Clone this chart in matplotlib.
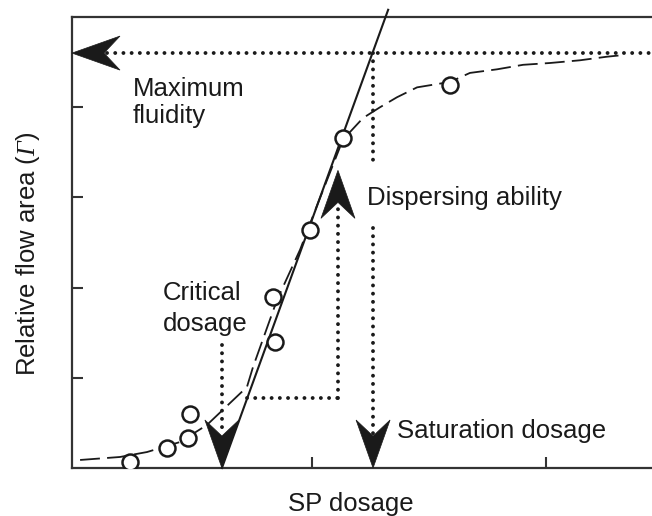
import matplotlib
matplotlib.use("Agg")
import matplotlib.pyplot as plt
from matplotlib.patches import Polygon
from matplotlib.transforms import IdentityTransform

plt.rcParams['font.family'] = ['Liberation Sans', 'DejaVu Sans']
# The only math in the figure is the italic Gamma of the y label
plt.rcParams['mathtext.fontset'] = 'custom'
plt.rcParams['mathtext.rm'] = 'Liberation Serif:italic'
plt.rcParams['mathtext.it'] = 'Liberation Serif:italic'

# Measured relative flow area vs. superplasticizer dosage
dose = [0.222, 0.380, 0.470, 0.479, 0.842, 0.833, 0.991, 1.132, 1.590]
flow = [0.067, 0.222, 0.333, 0.599, 1.397, 1.896, 2.639, 3.659, 4.246]

# Smoothed trend through the measurements
trend_dose = [0.009, 0.179, 0.295, 0.436, 0.551, 0.650, 0.722, 0.748, 0.850,
              0.949, 1.026, 1.132, 1.218, 1.291, 1.363, 1.449, 1.590, 1.675,
              1.791, 1.902, 2.017, 2.145, 2.261, 2.338]
trend_flow = [0.089, 0.122, 0.177, 0.288, 0.477, 0.721, 0.898, 1.120, 1.860,
              2.420, 2.940, 3.640, 3.880, 4.000, 4.110, 4.220, 4.280, 4.380,
              4.420, 4.470, 4.490, 4.520, 4.560, 4.580]

# Characteristic values
critical_dosage = 0.615
saturation_dosage = 1.261
max_fluidity = 4.60
linear_slope = 7.15
linear_top = 5.08
dispersing_dose = 1.111
dispersing_base = 0.776
dispersing_tip = 3.30
text_gap = (2.66, 3.36)

x_ticks = [1, 2]
y_ticks = [1, 2, 3, 4]

W, H = 652, 516
fig = plt.figure(figsize=(W / 100, H / 100), dpi=100)
ax = fig.add_axes([72 / W, 48 / H, 580 / W, 451 / H])
ax.set_xlim(-0.0256, 2.453)
ax.set_ylim(0, 5.0)

ink = '#1a1a1a'
for side in ['left', 'bottom', 'top']:
    ax.spines[side].set_linewidth(1.6)
    ax.spines[side].set_color('#333333')
ax.spines['right'].set_visible(False)
ax.set_xticks(x_ticks)
ax.set_yticks(y_ticks)
ax.tick_params(direction='in', length=8, width=1.5, color='#333333',
               labelbottom=False, labelleft=False)

dot_style = dict(color=ink, lw=2.8, linestyle=(0, (0.01, 2.1)),
                 dash_capstyle='round', zorder=2)

# Linear region of the flow curve
x_end = critical_dosage + linear_top / linear_slope
ax.plot([critical_dosage, x_end], [0, linear_top], color=ink, lw=1.5,
        clip_on=False, zorder=3)

# Trend curve and measurements
ax.plot(trend_dose, trend_flow, color=ink, lw=1.3, linestyle=(0, (11, 4)), zorder=3)
ax.plot(dose, flow, 'o', mfc='white', mec=ink, ms=11.5, mew=1.8, zorder=4)


def arrowhead(x, y, direction, length=48, half_width=17, notch=32):
    """Filled stealth arrowhead with its tip at data point (x, y)."""
    tx, ty = ax.transData.transform((x, y))
    dx, dy = {'left': (-1, 0), 'down': (0, -1), 'up': (0, 1)}[direction]
    px, py = -dy, dx
    pts = [(tx, ty),
           (tx - dx * length + px * half_width, ty - dy * length + py * half_width),
           (tx - dx * notch, ty - dy * notch),
           (tx - dx * length - px * half_width, ty - dy * length - py * half_width)]
    ax.add_patch(Polygon(pts, closed=True, transform=IdentityTransform(),
                         facecolor=ink, edgecolor=ink, lw=0.5, clip_on=False,
                         zorder=5))


def data_offset_y(px):
    return px / ax.bbox.height * (ax.get_ylim()[1] - ax.get_ylim()[0])


def data_offset_x(px):
    return px / ax.bbox.width * (ax.get_xlim()[1] - ax.get_xlim()[0])


# Maximum fluidity
x_left = ax.get_xlim()[0]
ax.plot([x_left + data_offset_x(35), ax.get_xlim()[1]], [max_fluidity] * 2,
        clip_on=False, **dot_style)
arrowhead(x_left, max_fluidity, 'left')

# Saturation dosage
ax.plot([saturation_dosage] * 2, [max_fluidity, text_gap[1]], **dot_style)
ax.plot([saturation_dosage] * 2, [text_gap[0], data_offset_y(34)], **dot_style)
arrowhead(saturation_dosage, 0, 'down')

# Critical dosage
ax.plot([critical_dosage] * 2, [1.36, data_offset_y(34)], **dot_style)
arrowhead(critical_dosage, 0, 'down')

# Dispersing ability
x_start = critical_dosage + dispersing_base / linear_slope
ax.plot([x_start, dispersing_dose], [dispersing_base] * 2, **dot_style)
ax.plot([dispersing_dose] * 2, [dispersing_base, dispersing_tip - data_offset_y(34)],
        **dot_style)
arrowhead(dispersing_dose, dispersing_tip, 'up')

fs = 18.5
label_style = dict(fontsize=fs, color=ink, va='baseline', ha='left', zorder=6)
ax.text(0.235, 4.124, 'Maximum', **label_style)
ax.text(0.235, 3.825, 'fluidity', **label_style)
ax.text(0.363, 1.863, 'Critical', **label_style)
ax.text(0.363, 1.519, 'dosage', **label_style)
ax.text(1.235, 2.916, 'Dispersing ability', **label_style)
ax.text(1.363, 0.333, 'Saturation dosage', **label_style)

ax.set_xlabel('SP dosage', fontsize=fs, color=ink)
ax.xaxis.set_label_coords(0.481, -0.053)
ax.set_ylabel(r'Relative flow area ($\mathrm{Γ}$)', fontsize=fs, color=ink)
ax.yaxis.set_label_coords(-0.052, 0.474)

fig.savefig('out.png', dpi=100)
